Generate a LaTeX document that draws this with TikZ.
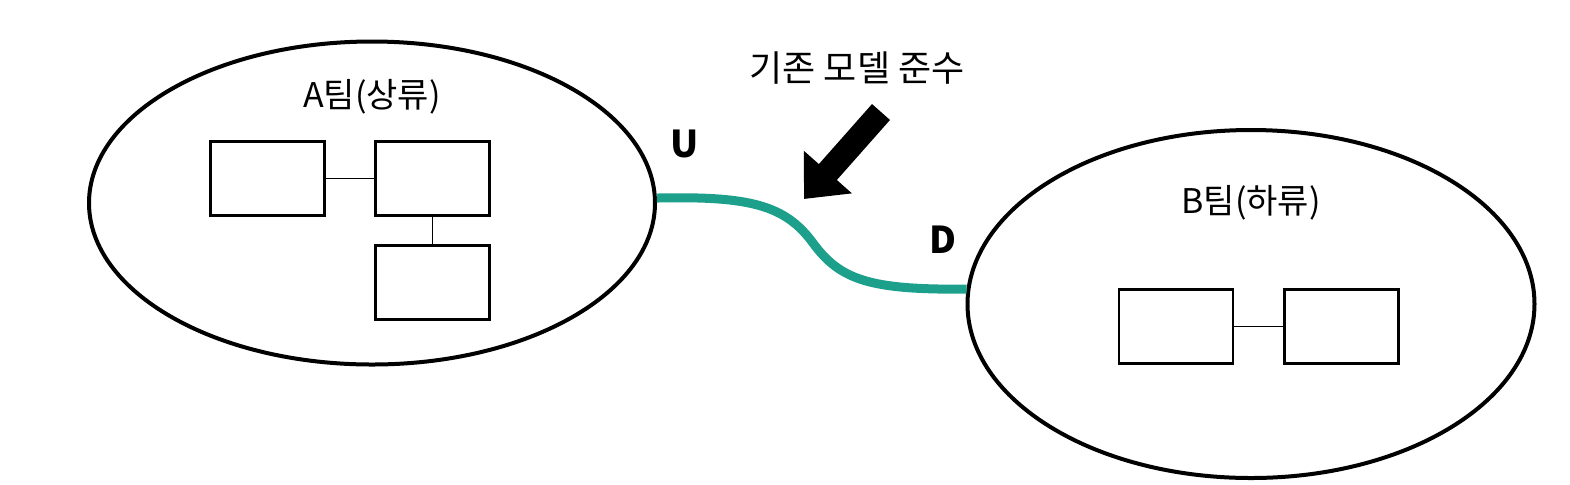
\documentclass[tikz,border=0pt]{standalone}
\usepackage{fontspec}
\setmainfont{Noto Sans CJK KR}
\usetikzlibrary{shapes.geometric,arrows.meta}
\definecolor{tealline}{RGB}{28,160,140}
\tikzset{
  team/.style={draw=black,line width=2pt,ellipse,inner sep=0pt},
  compbox/.style={draw=black,line width=1.1pt,rectangle,inner sep=0pt,minimum width=57pt,minimum height=37pt},
  link/.style={draw=black,line width=0.9pt},
  lbl/.style={font=\fontsize{17}{19}\selectfont,inner sep=0pt},
  toplbl/.style={font=\fontsize{18}{20}\selectfont,inner sep=0pt},
  ud/.style={font=\bfseries\fontsize{18.5}{20}\selectfont,inner sep=0pt},
}
\begin{document}
\begin{tikzpicture}[x=0.5pt,y=-0.5pt]
\useasboundingbox[fill=white] (0,0) rectangle (1570,484);
% team A
\node[team,minimum width=283pt,minimum height=161.5pt] (A) at (372,203) {};
\node[lbl] (At) at (372,97) {A팀(상류)};
\node[compbox] (a1) at (267.5,178.5) {};
\node[compbox] (a2) at (432.5,178.5) {};
\node[compbox] (a3) at (432.5,282.5) {};
\draw[link] (a1) -- (a2);
\draw[link] (a2) -- (a3);
% team B
\node[team,minimum width=283.5pt,minimum height=174pt] (B) at (1251,304) {};
\node[lbl] (Bt) at (1251,203) {B팀(하류)};
\node[compbox] (b1) at (1176,326.5) {};
\node[compbox] (b2) at (1341.5,326.5) {};
\draw[link] (b1) -- (b2);
% relation
\draw[tealline,line width=4.5pt] (A.1) .. controls (750,196) and (785,205) .. (813,243)
   .. controls (840,280) and (870,290) .. (B.177);
\node[ud] (U) at (685,144) {U};
\node[ud] (D) at (943,240) {D};
\node[toplbl] (T) at (857,68) {기존 모델 준수};
\coordinate (arrtail) at (881,112);
\coordinate (arrtip) at (804,199);
\draw[line width=12pt,black,-{Triangle[length=18pt,width=31pt]}] (arrtail) -- (arrtip);
\end{tikzpicture}
\end{document}
